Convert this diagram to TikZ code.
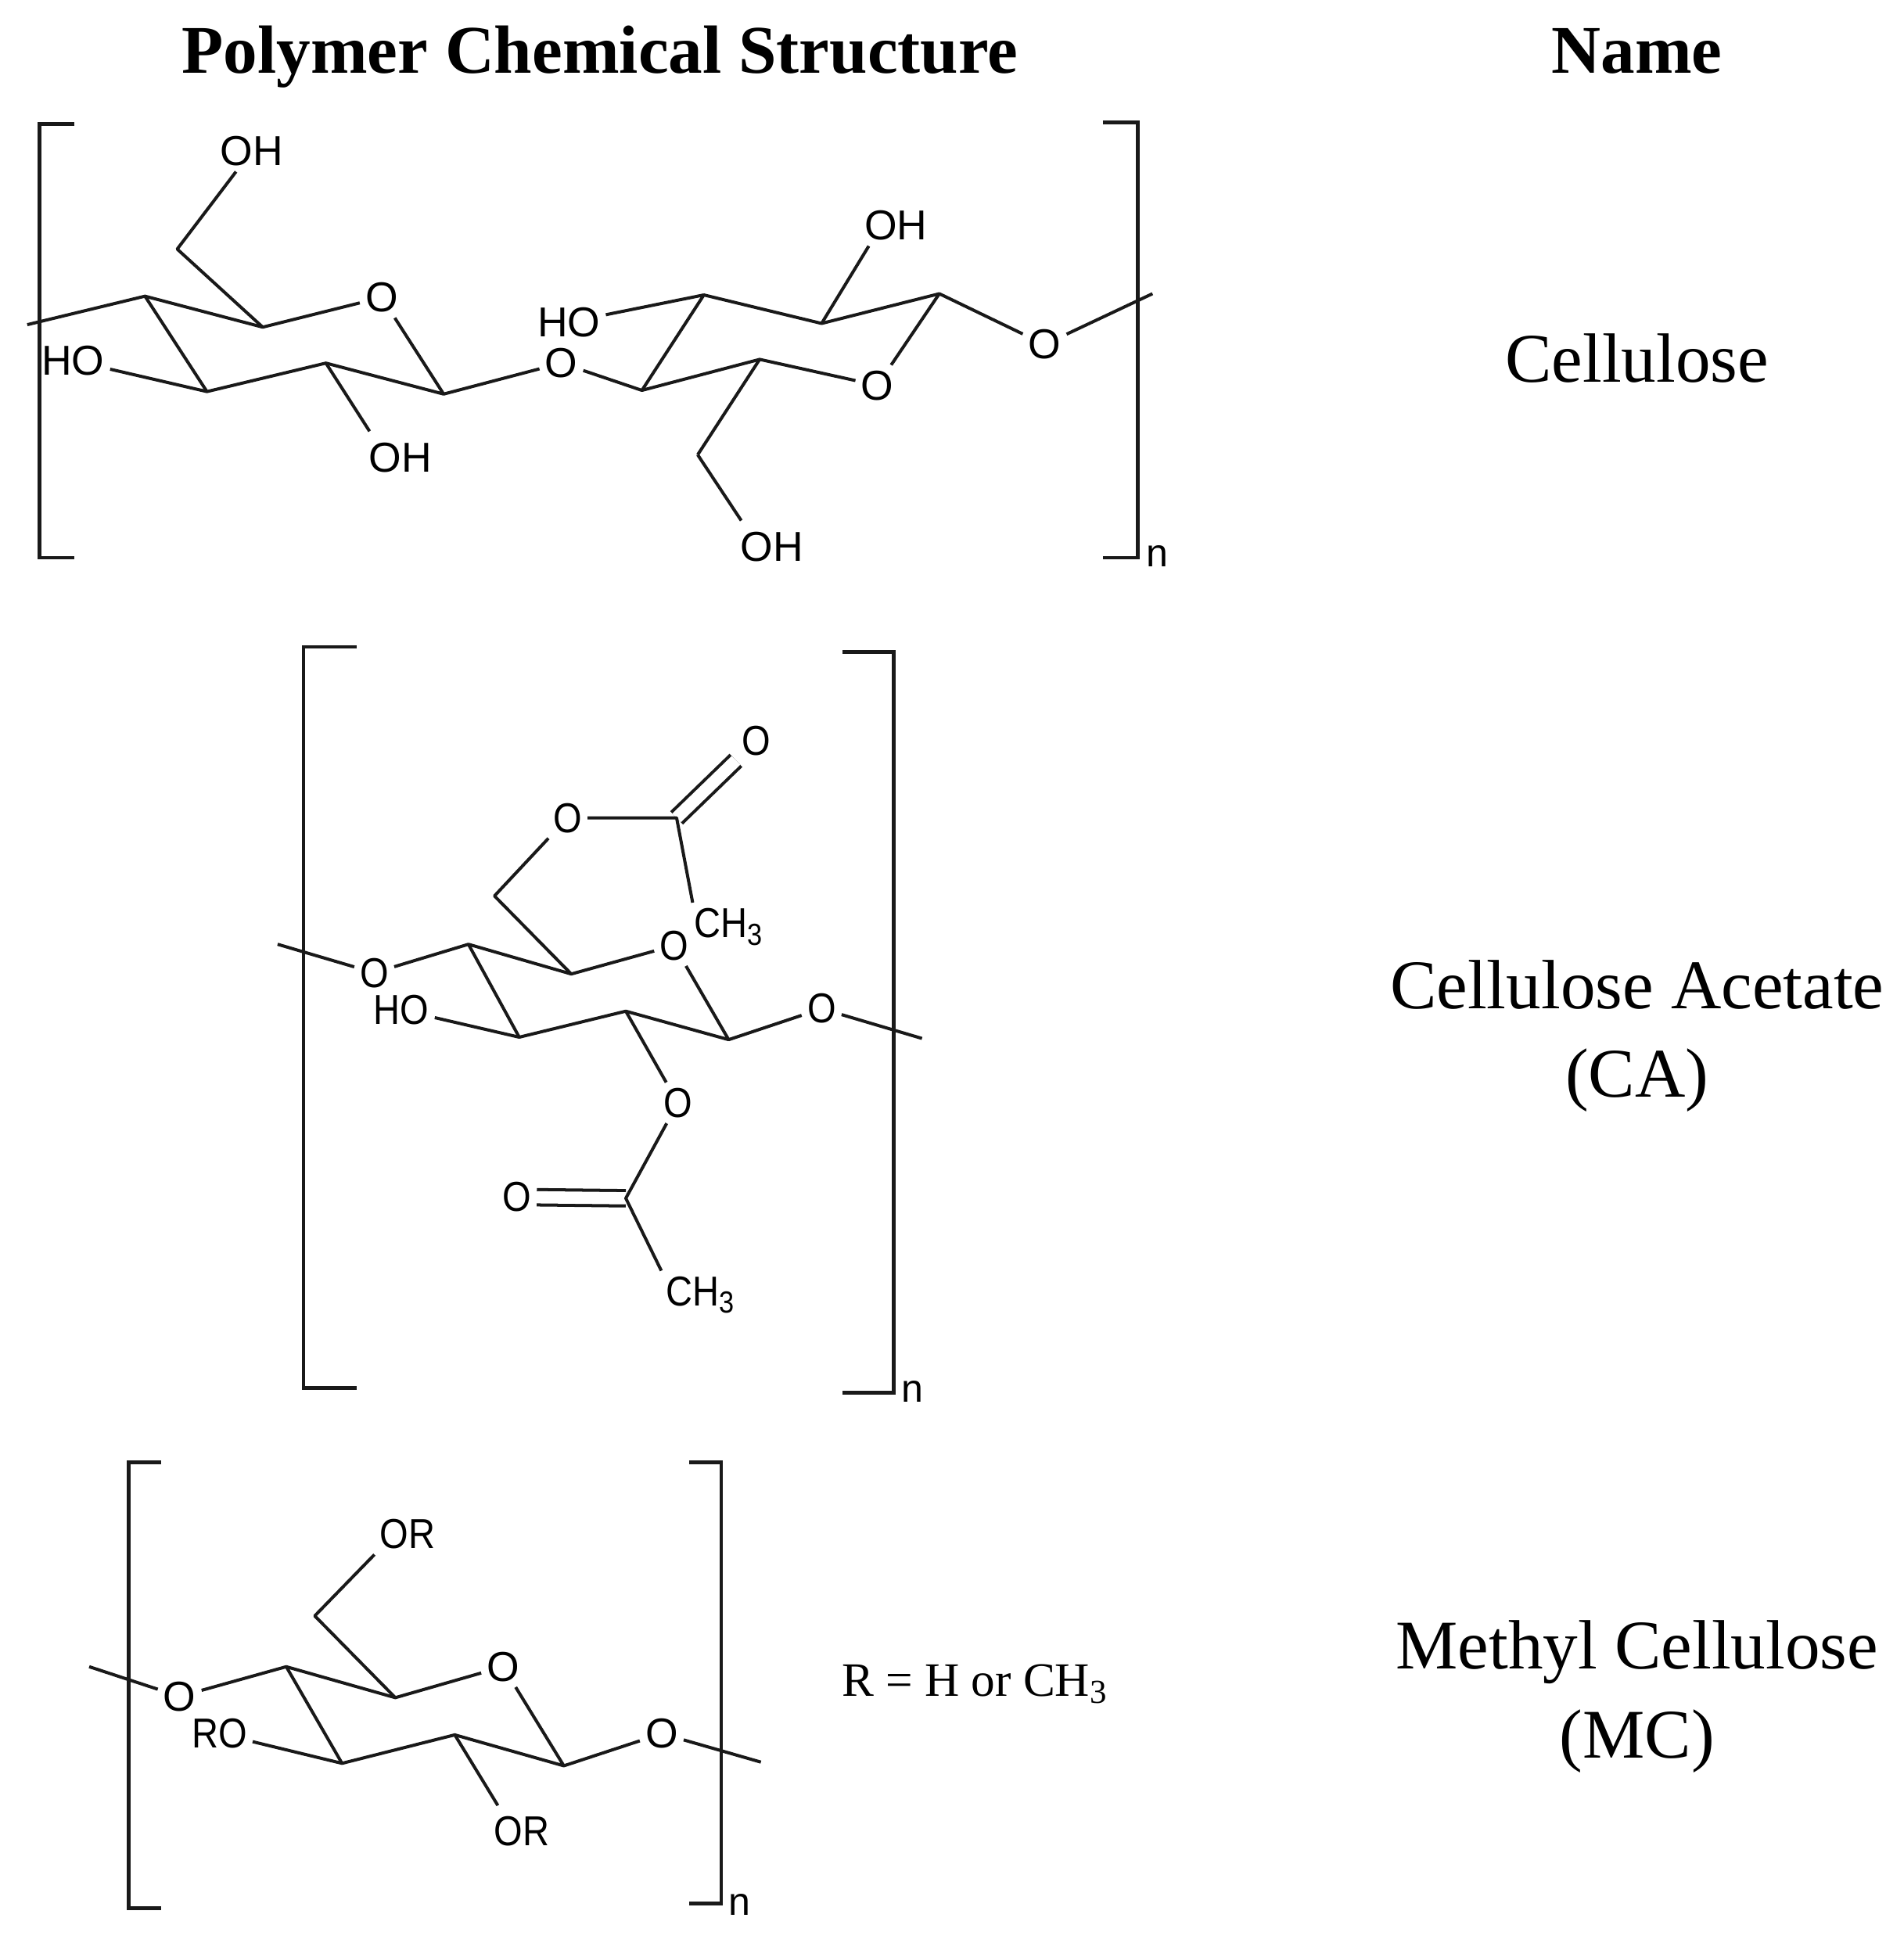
\documentclass[tikz,border=0pt]{standalone}
\usepackage{fontspec}
\setmainfont{Liberation Serif}
\newfontfamily\chemfont{Liberation Sans}
\newfontfamily\chemnarrow{Liberation Sans}[FakeStretch=0.88]
\newcommand{\lowthree}{\raisebox{-0.35ex}{\fontsize{7}{8}\selectfont 3}}
\usetikzlibrary{positioning, calc}

\tikzset{
  atom/.style={inner sep=1.1pt, font=\chemfont\fontsize{9.6}{11}\selectfont},
  narrowatom/.style={inner sep=1.1pt, font=\chemnarrow\fontsize{9.6}{11}\selectfont},
  bond/.style={line width=0.72pt, line join=round, black!90},
  dbond/.style={bond, double=white, double distance=2.8pt},
  bracket/.style={line width=0.85pt, black!90, line join=miter},
  heading/.style={inner sep=0pt, anchor=base, font=\bfseries\fontsize{15.65}{18}\selectfont},
  polyname/.style={inner sep=0pt, align=center, font=\fontsize{16}{20.4}\selectfont},
  subn/.style={inner sep=0pt, font=\chemfont\fontsize{9}{11}\selectfont}
}

\begin{document}
\begin{tikzpicture}[x=0.01cm, y=-0.01cm]
  \useasboundingbox (0,0) rectangle (1536,1568);

  \node[heading] (title) at (484,59) {Polymer Chemical Structure};
  \node[heading] (nametitle) at (1321,59) {Name};
  \node[polyname] (celname) at (1321,289) {Cellulose};
  \node[polyname] (caname) at (1321,836) {Cellulose Acetate\\(CA)};
  \node[polyname] (mcname) at (1321,1369) {Methyl Cellulose\\(MC)};

  \draw[bracket] (60,100) -- (32,100) -- (32,450) -- (60,450);
  \draw[bracket] (890,99) -- (918,99) -- (918,450) -- (890,450);
  \node[subn] (celn) at (934,449) {n};
  \coordinate (cA) at (22,262);
  \coordinate (c1) at (117,239);
  \coordinate (c2) at (212,264);
  \node[atom] (cO1) at (308,240) {O};
  \coordinate (c3) at (358,318);
  \coordinate (c4) at (263,293);
  \coordinate (c5) at (167,316);
  \coordinate (c6) at (143,201);
  \node[atom] (cOH1) at (203,122) {OH};
  \node[atom] (cHO1) at (59,291) {HO};
  \node[atom] (cOH2) at (323,369) {OH};
  \node[atom] (cO2) at (453,293) {O};
  \coordinate (c7) at (518,315);
  \coordinate (c8) at (613,290);
  \node[atom] (cO3) at (708,311) {O};
  \coordinate (c9) at (758,237);
  \coordinate (c10) at (663,261);
  \coordinate (c11) at (568,238);
  \node[atom] (cHO2) at (459,260) {HO};
  \node[atom] (cOH3) at (723,182) {OH};
  \coordinate (c12) at (563,367);
  \node[atom] (cOH4) at (623,441) {OH};
  \node[atom] (cO4) at (843,278) {O};
  \coordinate (cB) at (930,237);
  \draw[bond] (cA) -- (c1) -- (c2) -- (cO1) -- (c3) -- (c4) -- (c5) -- (c1);
  \draw[bond] (c2) -- (c6) -- (cOH1);
  \draw[bond] (c5) -- (cHO1);
  \draw[bond, shorten >=1.5pt] (c4) -- (cOH2.143);
  \draw[bond] (c3) -- (cO2) -- (c7) -- (c8) -- (cO3) -- (c9) -- (c10) -- (c11) -- (c7);
  \draw[bond] (c11) -- (cHO2);
  \draw[bond] (c10) -- (cOH3.217);
  \draw[bond] (c8) -- (c12);
  \draw[bond, shorten >=1.5pt] (c12) -- (cOH4.143);
  \draw[bond] (c9) -- (cO4) -- (cB);

  \draw[bracket] (288,522) -- (245,522) -- (245,1120) -- (288,1120);
  \draw[bracket] (680,526) -- (721,526) -- (721,1124) -- (680,1124);
  \node[subn] (can) at (736,1123) {n};
  \coordinate (aA) at (224,762);
  \node[narrowatom] (aO1) at (302,785) {O};
  \coordinate (a1) at (378,762);
  \coordinate (a2) at (461,786);
  \node[narrowatom] (aO2) at (544,763) {O};
  \coordinate (a3) at (588,839);
  \coordinate (a4) at (505,816);
  \coordinate (a5) at (419,837);
  \coordinate (a6) at (399,723);
  \node[narrowatom] (aO3) at (458,660) {O};
  \coordinate (a7) at (546,660);
  \node[narrowatom] (aO4) at (610,598) {O};
  \node[narrowatom] (aCH1) at (588,748) {CH\lowthree};
  \node[narrowatom] (aHO) at (324,815) {HO};
  \node[narrowatom] (aO5) at (663,814) {O};
  \coordinate (aB) at (744,838);
  \node[narrowatom] (aO6) at (547,890) {O};
  \coordinate (a8) at (505,967);
  \node[narrowatom] (aO7) at (417,966) {O};
  \node[narrowatom] (aCH2) at (565,1045) {CH\lowthree};
  \draw[dbond] (a7) -- (aO4);
  \draw[dbond] (a8) -- (aO7);
  \draw[bond] (aA) -- (aO1) -- (a1) -- (a2) -- (aO2) -- (a3) -- (a4) -- (a5) -- (a1);
  \draw[bond] (a2) -- (a6) -- (aO3) -- (a7) -- (aCH1.146);
  \draw[bond] (a5) -- (aHO);
  \draw[bond] (a3) -- (aO5) -- (aB);
  \draw[bond] (a4) -- (aO6) -- (a8) -- (aCH2.148);

  \draw[bracket] (130,1180) -- (104,1180) -- (104,1540) -- (130,1540);
  \draw[bracket] (556,1180) -- (582,1180) -- (582,1536) -- (556,1536);
  \node[subn] (mcn) at (597,1537) {n};
  \coordinate (mA) at (72,1345);
  \node[atom] (mO1) at (145,1369) {O};
  \coordinate (m1) at (231,1345);
  \coordinate (m2) at (319,1370);
  \node[atom] (mO2) at (406,1345) {O};
  \coordinate (m3) at (455,1425);
  \coordinate (m4) at (367,1400);
  \coordinate (m5) at (276,1423);
  \coordinate (m6) at (254,1304);
  \node[narrowatom] (mOR1) at (329,1238) {OR};
  \node[narrowatom] (mRO) at (177,1399) {RO};
  \node[narrowatom] (mOR2) at (421,1478) {OR};
  \node[atom] (mO3) at (534,1399) {O};
  \coordinate (mB) at (614,1422);
  \draw[bond] (mA) -- (mO1) -- (m1) -- (m2) -- (mO2) -- (m3) -- (m4) -- (m5) -- (m1);
  \draw[bond] (m2) -- (m6) -- (mOR1.south west);
  \draw[bond] (m5) -- (mRO);
  \draw[bond, shorten >=1.5pt] (m4) -- (mOR2.135);
  \draw[bond] (m3) -- (mO3) -- (mB);
  \node[inner sep=0pt, font=\fontsize{11}{13}\selectfont] (rnote) at (787,1359) {R = H or CH\textsubscript{3}};
\end{tikzpicture}
\end{document}
